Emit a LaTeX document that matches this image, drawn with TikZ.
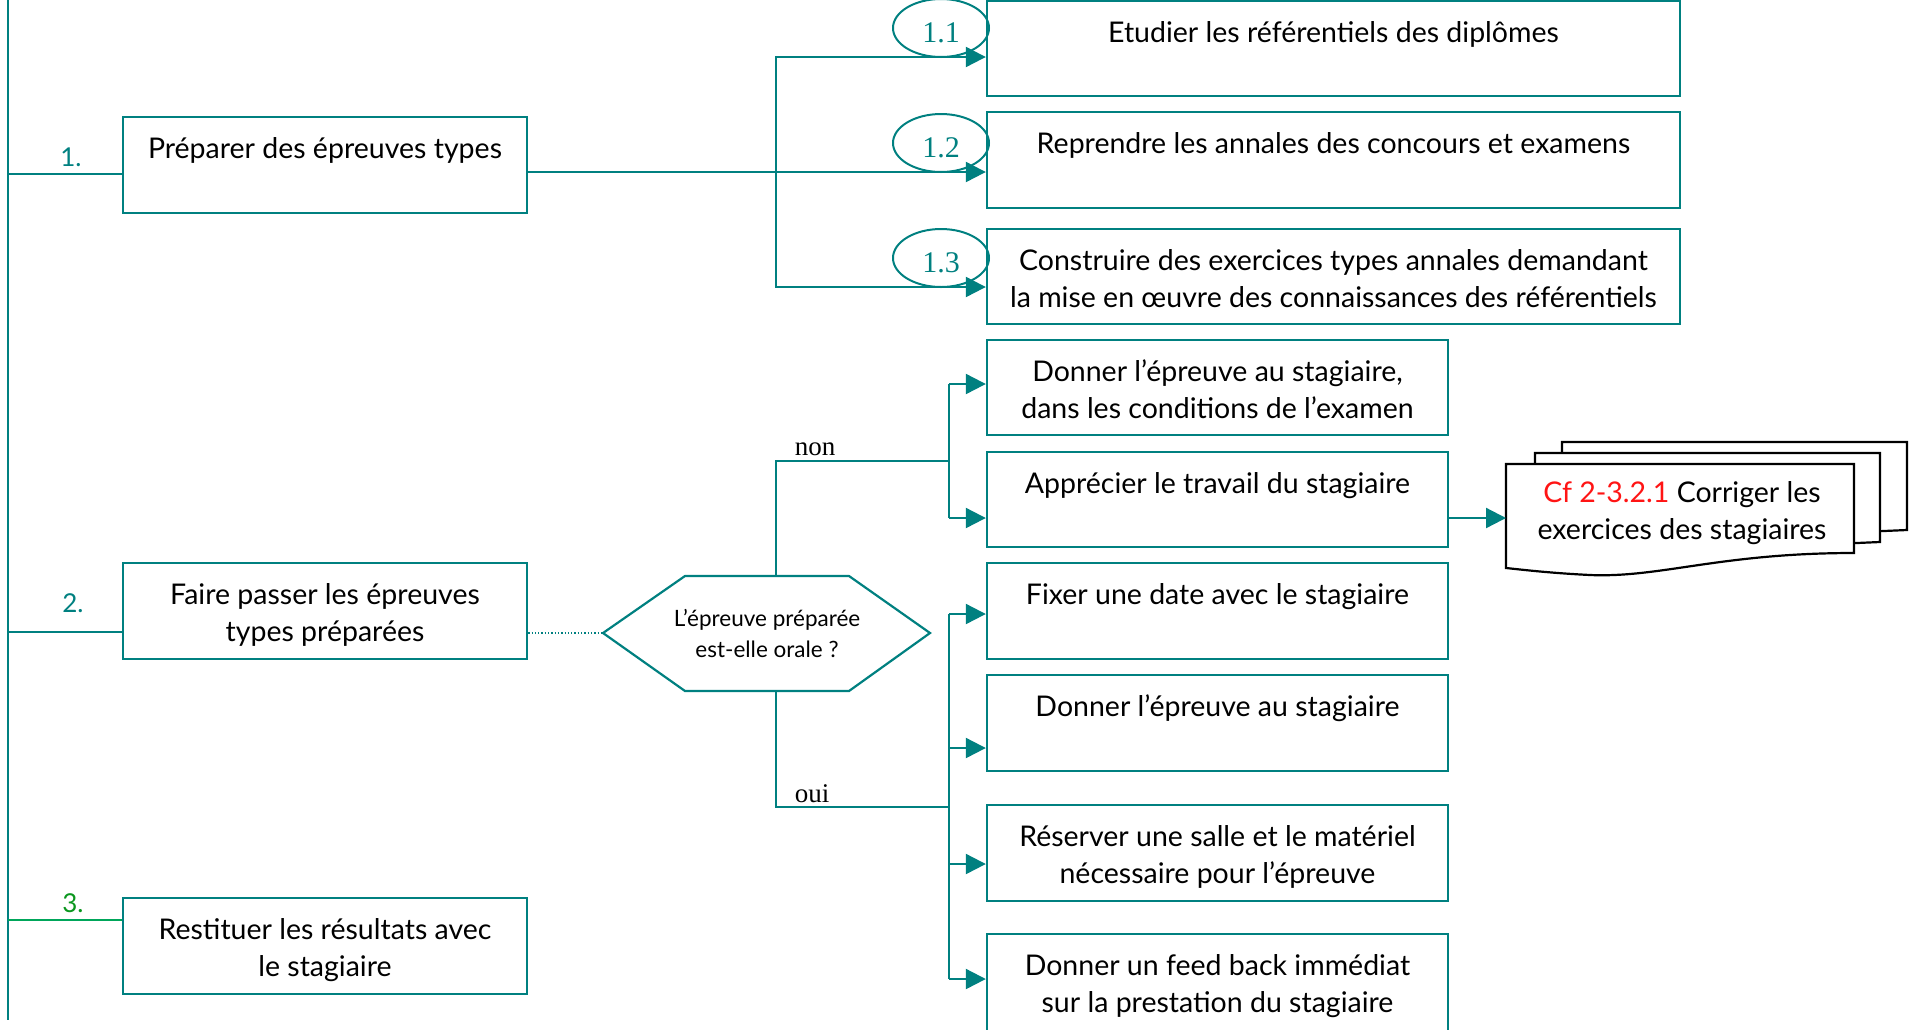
\documentclass[tikz,border=0pt]{standalone}
\usepackage{fontspec}
\setmainfont{Lato}
\newfontfamily\serifnum{Liberation Serif}
\usetikzlibrary{arrows.meta,calc,shapes.geometric}
\definecolor{tealc}{RGB}{0,128,128}
\definecolor{stepgreen}{RGB}{10,150,30}
\definecolor{refred}{RGB}{255,20,20}

% box with its text placed near the top edge
\newcommand\taskbox[6]{%
  \node[box, minimum width={#4-#2}, minimum height={#5-#3}] (#1) at ({(#2+#4)/2},{(#3+#5)/2}) {};
  \node[boxtext] (#1-t) at ({(#2+#4)/2},{#3+11}) {\rule{0pt}{30pt}#6};
}
% number set a little below the centre of its ellipse
\newcommand\lowered[1]{\raisebox{-14pt}[0pt][0pt]{#1}}

\begin{document}
\begin{tikzpicture}[x=1pt,y=-1pt,
  link/.style={draw=tealc, line width=2.2pt},
  arr/.style={link, -{Triangle[length=20pt,width=20pt]}},
  box/.style={draw=tealc, line width=2.4pt, fill=white, inner sep=0pt, rectangle},
  boxtext/.style={anchor=north, align=center, inner sep=0pt, text=black,
    font=\fontsize{28.5}{37}\selectfont},
  steplabel/.style={inner sep=0pt, text=tealc, font=\fontsize{26}{26}\selectfont},
  subnum/.style={draw=tealc, line width=2pt, ellipse, inner sep=0pt,
    minimum width=96pt, minimum height=58pt, text=tealc,
    font=\serifnum\fontsize{30}{30}\selectfont},
  branchlabel/.style={inner sep=0pt, text=black, font=\serifnum\fontsize{27}{27}\selectfont},
  docline/.style={draw=black, line width=2.2pt, fill=white, line join=miter},
]
\clip (0,0) rectangle (1910,1029);

% main steps
\taskbox{b1}{123}{117}{527}{213}{Préparer des épreuves types}
\taskbox{b2}{123}{563}{527}{659}{Faire passer les épreuves\\types préparées}
\taskbox{b3}{123}{898}{527}{994}{Restituer les résultats avec\\le stagiaire}

% sub-steps of step 1
\taskbox{b11}{987}{1}{1680}{96}{Etudier les référentiels des diplômes}
\taskbox{b12}{987}{112}{1680}{208}{Reprendre les annales des concours et examens}
\taskbox{b13}{987}{229}{1680}{324}{Construire des exercices types annales demandant\\la mise en œuvre des connaissances des référentiels}

% sub-steps of step 2
\taskbox{c1}{987}{340}{1448}{435}{Donner l’épreuve au stagiaire,\\dans les conditions de l’examen}
\taskbox{c2}{987}{452}{1448}{547}{Apprécier le travail du stagiaire}
\taskbox{c3}{987}{563}{1448}{659}{Fixer une date avec le stagiaire}
\taskbox{c4}{987}{675}{1448}{771}{Donner l’épreuve au stagiaire}
\taskbox{c5}{987}{805}{1448}{901}{Réserver une salle et le matériel\\nécessaire pour l’épreuve}
\taskbox{c6}{987}{934}{1448}{1034}{Donner un feed back immédiat\\sur la prestation du stagiaire}

% numbering of the sub-steps
\node[subnum] (e11) at (941,28) {\lowered{1.1}};
\node[subnum] (e12) at (941,143) {\lowered{1.2}};
\node[subnum] (e13) at (941,258) {\lowered{1.3}};

% step numbers and the spine
\node[steplabel] (n1) at (71,157) {1.};
\node[steplabel] (n2) at (73,603) {2.};
\node[steplabel, text=stepgreen] (n3) at (73,903) {3.};

\coordinate (top) at (8,0);
\coordinate (bottom) at (8,1020);
\coordinate (s1) at (8,174);
\coordinate (s2) at (8,632);
\coordinate (s3) at (8,920);
\draw[link] (top) -- (bottom);
\draw[link] (s1) -- (b1.west |- s1);
\draw[link] (s2) -- (b2.west |- s2);
\draw[link, draw=tealc!70!green] (s3) -- (b3.west |- s3);

% fan-out of step 1
\coordinate (j1) at (776,172);
\coordinate (p11) at (776,57);
\coordinate (p13) at (776,287);
\draw[link] (b1.east |- j1) -- (j1);
\draw[arr] (j1) -- (b12.west |- j1);
\draw[arr] (j1) -- (p11) -- (b11.west |- p11);
\draw[arr] (j1) -- (p13) -- (b13.west |- p13);

% decision
\node[inner sep=0pt, align=center, font=\fontsize{22.5}{31}\selectfont] (q) at (767,633)
  {L’épreuve préparée\\est-elle orale ?};
\draw[link, line join=miter] ($(q)+(-164,0)$) -- ($(q)+(-82,-57)$) -- ($(q)+(82,-57)$)
  -- ($(q)+(163,0)$) -- ($(q)+(82,58)$) -- ($(q)+(-82,58)$) -- cycle;
\coordinate (qw) at ($(q)+(-164,0)$);
\coordinate (qt) at (776,576);
\coordinate (qb) at (776,691);
\draw[draw=tealc, line width=1.3pt, dotted] (b2.east |- qw) -- (qw);

% "non" branch
\coordinate (jn) at (949,461);
\coordinate (pc1) at (949,384);
\coordinate (pc2) at (949,518);
\draw[link] (qt) |- (jn);
\draw[link] (pc1) -- (pc2);
\draw[arr] (pc1) -- (c1.west |- pc1);
\draw[arr] (pc2) -- (c2.west |- pc2);
\node[branchlabel] (lnon) at (815,449) {non};

% "oui" branch
\coordinate (jo) at (949,807);
\coordinate (pc3) at (949,614);
\coordinate (pc4) at (949,748);
\coordinate (pc5) at (949,864);
\coordinate (pc6) at (949,979);
\draw[link] (qb) |- (jo);
\draw[link] (pc3) -- (pc6);
\draw[arr] (pc3) -- (c3.west |- pc3);
\draw[arr] (pc4) -- (c4.west |- pc4);
\draw[arr] (pc5) -- (c5.west |- pc5);
\draw[arr] (pc6) -- (c6.west |- pc6);
\node[branchlabel] (loui) at (812,794) {oui};

% stacked documents
\draw[docline] (1562,442) -- (1907,442) -- (1907,530) -- (1562,545) -- cycle;
\draw[docline] (1535,453) -- (1880,453) -- (1880,542) -- (1535,557) -- cycle;
\draw[docline] (1506,464) -- (1854,464) -- (1854,553)
  .. controls (1720,553) and (1660,578) .. (1590,575)
  .. controls (1550,573) and (1525,570) .. (1506,568) -- cycle;
\node[inner sep=0pt, align=center, font=\fontsize{28.5}{37}\selectfont] (doc) at (1682,513)
  {\textcolor{refred}{Cf 2-3.2.1} Corriger les\\exercices des stagiaires};
\coordinate (docin) at (1506,518);
\draw[arr] (c2.east |- pc2) -- (docin);
\end{tikzpicture}
\end{document}
